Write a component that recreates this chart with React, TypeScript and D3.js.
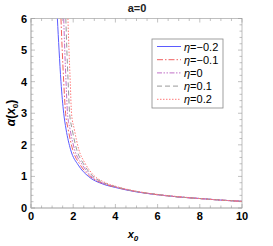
import React from 'react';
import * as d3 from 'd3';

// eta values and styles for each curve
const etas = ['-0.2', '-0.1', '0', '0.1', '0.2'];
const colors = ['#5b5bff', '#f06060', '#c070c8', '#999999', '#ff7a7a'];
const dashes = ['', '6,2,1.5,2', '5,1.5,1.5,1.5,1.5,1.5', '5,3', '1.5,1.5'];

// [x0, alpha]
const curveM02 = [[1.25, 6], [1.33, 5], [1.42, 4], [1.55, 3], [1.66, 2.5], [1.88, 1.84], [2.24, 1.36], [2.72, 1.0], [3.4, 0.76], [4, 0.65], [5, 0.51], [6, 0.42], [7, 0.35], [8, 0.3], [9, 0.25], [10, 0.21]];
const curveM01 = [[1.42, 6], [1.48, 5], [1.55, 4], [1.64, 3], [1.76, 2.5], [1.98, 1.84], [2.32, 1.38], [2.78, 1.01], [3.4, 0.78], [4, 0.66], [5, 0.52], [6, 0.42], [7, 0.35], [8, 0.3], [9, 0.25], [10, 0.21]];
const curve0 = [[1.55, 6], [1.6, 5], [1.66, 4], [1.73, 3], [1.85, 2.5], [2.07, 1.84], [2.4, 1.4], [2.84, 1.02], [3.4, 0.79], [4, 0.67], [5, 0.52], [6, 0.42], [7, 0.35], [8, 0.3], [9, 0.25], [10, 0.21]];
const curveP01 = [[1.65, 6], [1.7, 5], [1.76, 4], [1.83, 3], [1.95, 2.5], [2.17, 1.84], [2.47, 1.42], [2.9, 1.03], [3.45, 0.8], [4, 0.68], [5, 0.52], [6, 0.43], [7, 0.35], [8, 0.3], [9, 0.25], [10, 0.21]];
const curveP02 = [[1.75, 6], [1.8, 5], [1.86, 4], [1.92, 3], [2.05, 2.5], [2.27, 1.84], [2.55, 1.43], [2.95, 1.05], [3.5, 0.81], [4, 0.69], [5, 0.53], [6, 0.43], [7, 0.36], [8, 0.3], [9, 0.25], [10, 0.21]];
const curves = [curveM02, curveM01, curve0, curveP01, curveP02];

const xTicks = [0, 2, 4, 6, 8, 10];
const yTicks = [0, 1, 2, 3, 4, 5, 6];

const W = 273, H = 246;
const L = 31, R = 242, T = 18.5, B = 208;

export default function App() {
  const x = d3.scaleLinear().domain([0, 10]).range([L, R]);
  const y = d3.scaleLinear().domain([0, 6]).range([B, T]);
  const line = d3.line<number[]>().x(d => x(d[0])).y(d => y(d[1])).curve(d3.curveMonotoneX);

  const xMinor = d3.range(0, 10.01, 0.5);
  const yMinor = d3.range(0, 6.01, 0.2);
  const font = 'Liberation Sans, Arial, sans-serif';

  return (
    <svg width={W} height={H} style={{ position: 'absolute', left: 0, top: 0 }}
      fontFamily={font}>
      <rect width={W} height={H} fill="white" />
      <defs>
        <clipPath id="plot"><rect x={L} y={T} width={R - L} height={B - T} /></clipPath>
      </defs>
      {/* frame */}
      <rect x={L} y={T} width={R - L} height={B - T} fill="none" stroke="#b0b0b0" strokeWidth={0.8} />
      <line x1={L} x2={L} y1={T} y2={B} stroke="#c8c8c8" strokeWidth={1.6} />
      <line x1={L} x2={R} y1={B} y2={B} stroke="#c8c8c8" strokeWidth={1.6} />
      {/* ticks */}
      {xMinor.map((v, i) => {
        const major = Math.abs(v % 2) < 1e-6;
        const len = major ? 4 : 2.5;
        return (
          <g key={'xt' + i} stroke="#999" strokeWidth={0.6}>
            <line x1={x(v)} x2={x(v)} y1={B} y2={B - len} />
            <line x1={x(v)} x2={x(v)} y1={T} y2={T + len} />
          </g>
        );
      })}
      {yMinor.map((v, i) => {
        const major = Math.abs(v - Math.round(v)) < 1e-6;
        const len = major ? 4 : 2.5;
        return (
          <g key={'yt' + i} stroke="#999" strokeWidth={0.6}>
            <line x1={L} x2={L + len} y1={y(v)} y2={y(v)} />
            <line x1={R} x2={R - len} y1={y(v)} y2={y(v)} />
          </g>
        );
      })}
      {xTicks.map(v => (
        <text key={'xl' + v} x={x(v)} y={B + 12} textAnchor="middle" fontSize={11} fontWeight="bold">{v}</text>
      ))}
      {yTicks.map(v => (
        <text key={'yl' + v} x={L - 4} y={y(v) + 4} textAnchor="end" fontSize={11} fontWeight="bold">{v}</text>
      ))}
      {/* curves */}
      <g clipPath="url(#plot)">
        {curves.map((c, i) => (
          <path key={'c' + i} d={line(c) || ''} fill="none" stroke={colors[i]}
            strokeWidth={1} strokeDasharray={dashes[i]} />
        ))}
      </g>
      {/* title and axis labels */}
      <text x={137} y={12} textAnchor="middle" fontSize={11} fontWeight="bold" fill="#222">a=0</text>
      <text x={133} y={238} textAnchor="middle" fontSize={11} fontWeight="bold" fontStyle="italic">
        x<tspan fontSize={8} dy={3}>0</tspan>
      </text>
      <text transform="translate(15,113) rotate(-90)" textAnchor="middle" fontSize={12} fontWeight="bold">
        <tspan fontStyle="italic">α</tspan>(<tspan fontStyle="italic">x</tspan><tspan fontSize={8} dy={3}>0</tspan><tspan dy={-3}>)</tspan>
      </text>
      {/* legend */}
      <rect x={152} y={39} width={71} height={69} fill="white" stroke="#888" strokeWidth={0.8} />
      {etas.map((e, i) => {
        const ly = 46.5 + i * 13.2;
        return (
          <g key={'lg' + i}>
            <line x1={157} x2={181} y1={ly} y2={ly} stroke={colors[i]} strokeWidth={1} strokeDasharray={dashes[i]} />
            <text x={184} y={ly + 4} fontSize={11}>
              <tspan fontStyle="italic">η</tspan>={e.replace('-', '−')}
            </text>
          </g>
        );
      })}
    </svg>
  );
}
